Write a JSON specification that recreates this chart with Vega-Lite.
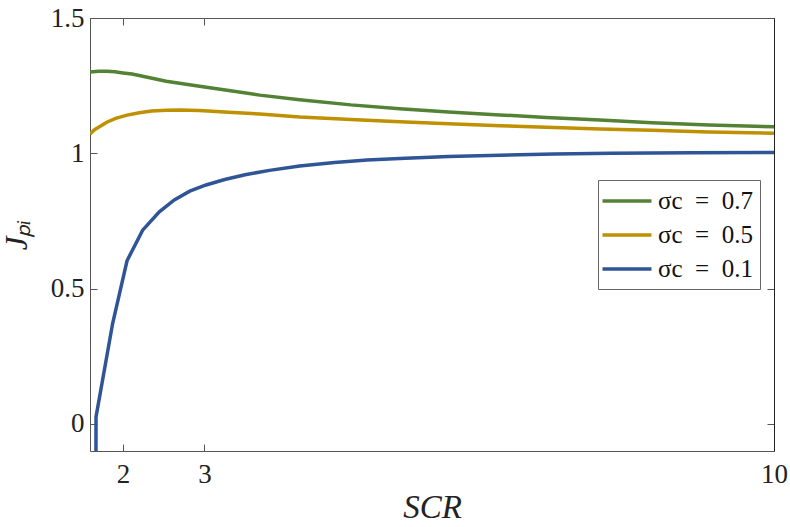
{
  "$schema": "https://vega.github.io/schema/vega-lite/v6.json",
  "width": 684,
  "height": 433,
  "autosize": "none",
  "padding": {"left": 90, "top": 18, "right": 16, "bottom": 76},
  "background": "white",
  "config": {
    "view": {"stroke": null},
    "font": "Liberation Serif"
  },
  "data": {
    "values": [
      {"SCR": 1.594, "J": 1.300, "s": "σc = 0.7"},
      {"SCR": 1.70, "J": 1.303, "s": "σc = 0.7"},
      {"SCR": 1.80, "J": 1.303, "s": "σc = 0.7"},
      {"SCR": 1.90, "J": 1.301, "s": "σc = 0.7"},
      {"SCR": 2.00, "J": 1.297, "s": "σc = 0.7"},
      {"SCR": 2.11, "J": 1.293, "s": "σc = 0.7"},
      {"SCR": 2.30, "J": 1.281, "s": "σc = 0.7"},
      {"SCR": 2.53, "J": 1.266, "s": "σc = 0.7"},
      {"SCR": 2.94, "J": 1.248, "s": "σc = 0.7"},
      {"SCR": 3.30, "J": 1.232, "s": "σc = 0.7"},
      {"SCR": 3.68, "J": 1.215, "s": "σc = 0.7"},
      {"SCR": 4.17, "J": 1.198, "s": "σc = 0.7"},
      {"SCR": 4.80, "J": 1.179, "s": "σc = 0.7"},
      {"SCR": 5.40, "J": 1.165, "s": "σc = 0.7"},
      {"SCR": 6.00, "J": 1.153, "s": "σc = 0.7"},
      {"SCR": 6.63, "J": 1.142, "s": "σc = 0.7"},
      {"SCR": 7.20, "J": 1.132, "s": "σc = 0.7"},
      {"SCR": 7.86, "J": 1.123, "s": "σc = 0.7"},
      {"SCR": 8.50, "J": 1.113, "s": "σc = 0.7"},
      {"SCR": 9.20, "J": 1.105, "s": "σc = 0.7"},
      {"SCR": 10.0, "J": 1.098, "s": "σc = 0.7"},

      {"SCR": 1.594, "J": 1.071, "s": "σc = 0.5"},
      {"SCR": 1.65, "J": 1.087, "s": "σc = 0.5"},
      {"SCR": 1.71, "J": 1.098, "s": "σc = 0.5"},
      {"SCR": 1.80, "J": 1.115, "s": "σc = 0.5"},
      {"SCR": 1.91, "J": 1.129, "s": "σc = 0.5"},
      {"SCR": 2.05, "J": 1.141, "s": "σc = 0.5"},
      {"SCR": 2.20, "J": 1.150, "s": "σc = 0.5"},
      {"SCR": 2.35, "J": 1.156, "s": "σc = 0.5"},
      {"SCR": 2.53, "J": 1.159, "s": "σc = 0.5"},
      {"SCR": 2.70, "J": 1.160, "s": "σc = 0.5"},
      {"SCR": 2.94, "J": 1.158, "s": "σc = 0.5"},
      {"SCR": 3.30, "J": 1.152, "s": "σc = 0.5"},
      {"SCR": 3.68, "J": 1.145, "s": "σc = 0.5"},
      {"SCR": 4.17, "J": 1.134, "s": "σc = 0.5"},
      {"SCR": 4.80, "J": 1.125, "s": "σc = 0.5"},
      {"SCR": 5.40, "J": 1.117, "s": "σc = 0.5"},
      {"SCR": 6.00, "J": 1.109, "s": "σc = 0.5"},
      {"SCR": 6.63, "J": 1.102, "s": "σc = 0.5"},
      {"SCR": 7.20, "J": 1.096, "s": "σc = 0.5"},
      {"SCR": 7.86, "J": 1.090, "s": "σc = 0.5"},
      {"SCR": 8.50, "J": 1.085, "s": "σc = 0.5"},
      {"SCR": 9.20, "J": 1.079, "s": "σc = 0.5"},
      {"SCR": 10.0, "J": 1.074, "s": "σc = 0.5"},

      {"SCR": 1.662, "J": -0.8, "s": "σc = 0.1"},
      {"SCR": 1.668, "J": 0.026, "s": "σc = 0.1"},
      {"SCR": 1.872, "J": 0.371, "s": "σc = 0.1"},
      {"SCR": 2.049, "J": 0.603, "s": "σc = 0.1"},
      {"SCR": 2.241, "J": 0.716, "s": "σc = 0.1"},
      {"SCR": 2.446, "J": 0.784, "s": "σc = 0.1"},
      {"SCR": 2.63, "J": 0.828, "s": "σc = 0.1"},
      {"SCR": 2.82, "J": 0.860, "s": "σc = 0.1"},
      {"SCR": 3.02, "J": 0.883, "s": "σc = 0.1"},
      {"SCR": 3.25, "J": 0.903, "s": "σc = 0.1"},
      {"SCR": 3.50, "J": 0.921, "s": "σc = 0.1"},
      {"SCR": 3.80, "J": 0.937, "s": "σc = 0.1"},
      {"SCR": 4.17, "J": 0.953, "s": "σc = 0.1"},
      {"SCR": 4.60, "J": 0.966, "s": "σc = 0.1"},
      {"SCR": 5.00, "J": 0.975, "s": "σc = 0.1"},
      {"SCR": 5.40, "J": 0.981, "s": "σc = 0.1"},
      {"SCR": 6.00, "J": 0.988, "s": "σc = 0.1"},
      {"SCR": 6.63, "J": 0.993, "s": "σc = 0.1"},
      {"SCR": 7.30, "J": 0.997, "s": "σc = 0.1"},
      {"SCR": 8.00, "J": 1.000, "s": "σc = 0.1"},
      {"SCR": 9.00, "J": 1.002, "s": "σc = 0.1"},
      {"SCR": 10.0, "J": 1.003, "s": "σc = 0.1"}
    ]
  },
  "layer": [
    {
      "mark": {"type": "line", "clip": true, "strokeWidth": 3.5},
      "encoding": {
        "x": {
          "field": "SCR", "type": "quantitative",
          "scale": {"domain": [1.594, 10], "nice": false, "zero": false},
          "axis": {
            "values": [2, 3, 10], "title": "SCR", "grid": false,
            "domainColor": "#555", "tickColor": "#555", "tickSize": -7,
            "labelFont": "Liberation Serif", "labelFontSize": 27, "labelColor": "#222",
            "labelPadding": 17, "labelFlush": false,
            "titleFont": "Liberation Serif", "titleFontStyle": "italic", "titleFontWeight": "normal",
            "titleFontSize": 33, "titleColor": "#222", "titlePadding": 4
          }
        },
        "y": {
          "field": "J", "type": "quantitative",
          "scale": {"domain": [-0.1, 1.5], "nice": false, "zero": false},
          "axis": {
            "values": [0, 0.5, 1, 1.5], "format": "~g", "title": "Jₚᵢ", "grid": false,
            "domainColor": "#555", "tickColor": "#555", "tickSize": -7,
            "labelFont": "Liberation Serif", "labelFontSize": 27, "labelColor": "#222",
            "labelPadding": 13, "labelFlush": false,
            "titleFont": "Liberation Serif", "titleFontStyle": "italic", "titleFontWeight": "normal",
            "titleFontSize": 31, "titleColor": "#222", "titlePadding": 17
          }
        },
        "color": {
          "field": "s", "type": "nominal",
          "scale": {"domain": ["σc = 0.7", "σc = 0.5", "σc = 0.1"], "range": ["#548235", "#BF9000", "#2F5597"]},
          "legend": {
            "title": null, "orient": "none", "legendX": 508, "legendY": 162,
            "symbolType": "M-2,0H2", "symbolSize": 600, "symbolStrokeWidth": 3.5, "symbolOffset": 8,
            "labelExpr": "replace(datum.label, ' = ', '\u2002=\u2002')",
            "labelFont": "Liberation Serif", "labelFontSize": 25, "labelColor": "#111",
            "labelOffset": 17, "rowPadding": 7, "padding": 7,
            "strokeColor": "#666", "fillColor": "white"
          }
        }
      }
    },
    {
      "mark": {"type": "line", "strokeOpacity": 0, "clip": true},
      "encoding": {
        "x": {
          "field": "SCR", "type": "quantitative",
          "scale": {"domain": [1.594, 10], "nice": false, "zero": false},
          "axis": {"orient": "top", "values": [2, 3, 10], "labels": false, "title": null, "grid": false,
                   "domainColor": "#555", "tickColor": "#555", "tickSize": -7}
        },
        "y": {
          "field": "J", "type": "quantitative",
          "scale": {"domain": [-0.1, 1.5], "nice": false, "zero": false},
          "axis": {"orient": "right", "values": [0, 0.5, 1, 1.5], "labels": false, "title": null, "grid": false,
                   "domainColor": "#222", "tickColor": "#555", "tickSize": -7}
        },
        "detail": {"field": "s"}
      }
    }
  ],
  "resolve": {"axis": {"x": "independent", "y": "independent"}}
}
